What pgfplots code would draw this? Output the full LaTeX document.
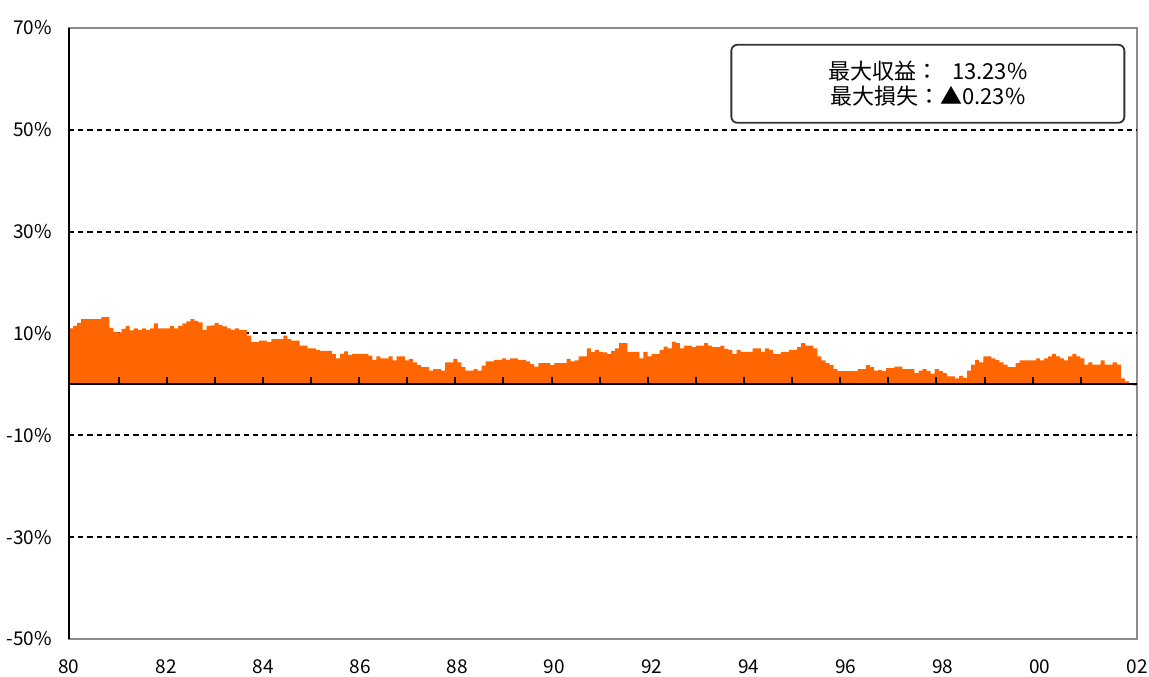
\documentclass[border=0pt]{standalone}
\usepackage{fontspec}
\setmainfont{Noto Sans CJK JP}
\usepackage{pgfplots}
\usepackage{pgfplotstable}
\pgfplotsset{compat=1.18}
\definecolor{orng}{RGB}{255,102,0}

% monthly values, month 0 = Jan 1980
\pgfplotstableread{
m v
0 11.0
1 11.5
2 12.1
3 12.8
4 12.8
5 12.8
6 12.8
7 12.8
8 13.23
9 13.2
10 11.1
11 10.3
12 10.2
13 10.9
14 11.5
15 10.6
16 11.0
17 10.7
18 11.0
19 10.7
20 11.0
21 12.0
22 11.0
23 11.0
24 11.0
25 11.5
26 11.0
27 11.5
28 12.0
29 12.4
30 12.8
31 12.5
32 12.2
33 10.7
34 11.5
35 11.6
36 12.1
37 11.7
38 11.4
39 11.0
40 10.7
41 11.0
42 10.7
43 10.7
44 9.6
45 8.3
46 8.3
47 8.6
48 8.6
49 8.3
50 8.9
51 8.9
52 8.9
53 9.6
54 8.9
55 8.6
56 8.6
57 7.6
58 7.6
59 7.1
60 7.1
61 6.8
62 6.6
63 6.6
64 6.6
65 6.0
66 5.1
67 6.0
68 6.5
69 5.8
70 6.0
71 6.0
72 6.0
73 6.0
74 5.65
75 4.8
76 5.5
77 5.1
78 5.1
79 5.5
80 4.7
81 5.5
82 5.5
83 4.7
84 5.0
85 4.35
86 3.8
87 3.4
88 3.4
89 2.7
90 3.0
91 3.0
92 2.7
93 4.35
94 4.35
95 5.0
96 4.35
97 3.4
98 2.7
99 2.7
100 3.0
101 2.7
102 3.7
103 4.5
104 4.5
105 4.8
106 4.8
107 5.1
108 4.8
109 5.1
110 5.1
111 4.8
112 4.8
113 4.5
114 4.0
115 3.5
116 4.2
117 4.2
118 4.2
119 3.8
120 4.2
121 4.2
122 4.2
123 5.0
124 4.5
125 4.7
126 5.5
127 5.5
128 7.1
129 6.4
130 6.8
131 6.4
132 6.3
133 6.0
134 6.6
135 7.1
136 8.1
137 8.1
138 6.4
139 6.4
140 6.4
141 5.1
142 6.4
143 5.5
144 6.0
145 6.0
146 6.8
147 7.4
148 7.1
149 8.4
150 8.1
151 7.1
152 7.6
153 7.6
154 7.3
155 7.6
156 7.6
157 8.1
158 7.6
159 7.3
160 7.3
161 7.6
162 7.0
163 6.8
164 6.0
165 6.8
166 6.4
167 6.4
168 6.4
169 7.1
170 7.1
171 6.4
172 7.1
173 6.8
174 6.0
175 6.0
176 6.4
177 6.4
178 6.8
179 6.8
180 7.3
181 8.1
182 7.6
183 7.6
184 7.1
185 5.5
186 4.7
187 4.2
188 3.8
189 3.0
190 2.6
191 2.6
192 2.6
193 2.6
194 2.6
195 3.0
196 3.0
197 3.8
198 3.4
199 2.7
200 2.8
201 2.6
202 3.2
203 3.2
204 3.5
205 3.5
206 3.0
207 3.0
208 3.0
209 2.2
210 2.7
211 3.0
212 2.6
213 2.1
214 3.0
215 2.6
216 2.2
217 1.6
218 1.6
219 1.2
220 1.7
221 1.3
222 2.7
223 3.9
224 4.8
225 4.35
226 5.5
227 5.5
228 5.1
229 4.8
230 4.35
231 3.9
232 3.4
233 3.4
234 4.2
235 4.7
236 4.7
237 4.7
238 4.7
239 5.1
240 4.7
241 5.1
242 5.5
243 6.0
244 5.5
245 5.1
246 4.7
247 5.5
248 6.0
249 5.5
250 5.1
251 3.9
252 4.35
253 3.9
254 3.9
255 4.7
256 3.9
257 3.9
258 4.35
259 3.9
260 1.2
261 0.6
262 0.2
263 -0.23
264 -0.23
}\ret

\begin{document}
\begin{tikzpicture}
\begin{axis}[
  name=main,
  scale only axis,
  width=534pt, height=305.5pt,
  xmin=1980, xmax=2002,
  ymin=-50, ymax=70,
  xtick={1980,1982,...,2002},
  xticklabels={80,82,84,86,88,90,92,94,96,98,00,02},
  ytick={-50,-30,...,70},
  yticklabels={-50\%,-30\%,-10\%,10\%,30\%,50\%,70\%},
  tick style={draw=none},
  axis line style={draw=black!45, line width=0.8pt},
  tick label style={font=\fontsize{9.5}{11}\selectfont},
  yticklabel style={xshift=-5pt},
  xticklabel style={yshift=-7pt},
  extra y ticks={-30,-10,10,30,50},
  extra y tick labels={,,,,},
  extra y tick style={ymajorgrids=true},
  major grid style={black, line width=1pt, dash pattern=on 2.6pt off 2pt},
]
\addplot[const plot, fill=orng, draw=none]
  table[x expr=1980+\thisrow{m}/12, y=v]{\ret} \closedcycle;
\end{axis}

\begin{axis}[
  scale only axis,
  width=534pt, height=305.5pt,
  xmin=1980, xmax=2002,
  ymin=-50, ymax=70,
  axis x line*=middle,
  axis y line*=left,
  xtick={1981.03,1982.02,1983.01,1984.00,1984.99,1985.98,1986.97,1987.96,1988.95,1989.94,1990.93,1991.92,1992.91,1993.90,1994.89,1995.88,1996.87,1997.86,1998.86,1999.85,2000.84},
  xticklabels={},
  ytick=\empty,
  xtick align=inside,
  major tick length=3.5pt,
  tick style={black, line width=1pt},
  axis line style={black, line width=1pt},
]
\node[draw=black!80, line width=0.9pt, rounded corners=3pt, fill=white,
      minimum width=196.5pt, minimum height=39pt, anchor=north east,
      align=center, font=\fontsize{11}{12.5}\selectfont]
  at (rel axis cs:0.989,0.974)
  {最大収益：\hspace{7pt}13.23\%\\最大損失：▲0.23\%};
\end{axis}
\pgfresetboundingbox
\path[use as bounding box] ([shift={(-34.5pt,-19pt)}]main.south west) rectangle ([shift={(6pt,14pt)}]main.north east);
\end{tikzpicture}
\end{document}
